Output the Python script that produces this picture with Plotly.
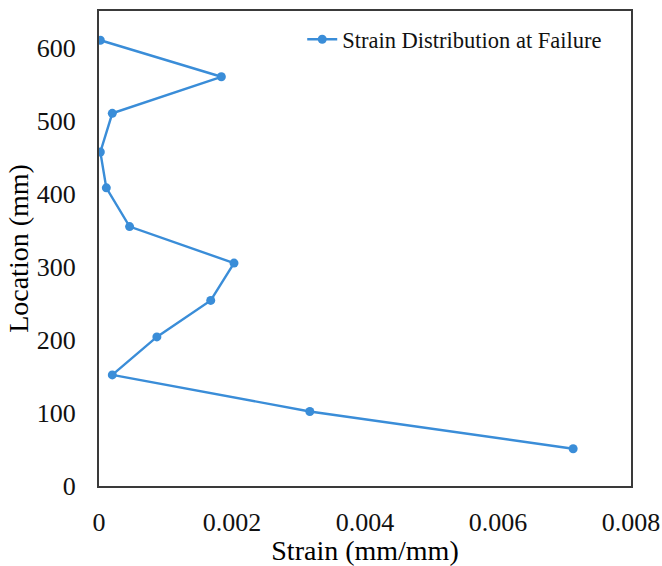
import plotly.graph_objects as go

strain = [0.00002, 0.00184, 0.00020, 0.00002, 0.00011, 0.00046, 0.00203, 0.00168, 0.00087, 0.00020, 0.00317, 0.00713]
location = [610, 560, 510, 457, 408, 355, 305, 254, 204, 152, 102, 51]
x_ticks = [0, 0.002, 0.004, 0.006, 0.008]
x_labels = ["0", "0.002", "0.004", "0.006", "0.008"]
y_ticks = [0, 100, 200, 300, 400, 500, 600]

color = "#3A8DD8"
font = "Liberation Serif, Times New Roman, serif"

fig = go.Figure()
fig.add_trace(go.Scatter(
    x=strain, y=location, mode="lines+markers",
    name="Strain Distribution at Failure",
    line=dict(color=color, width=2.4),
    marker=dict(color=color, size=9),
))

fig.update_layout(
    width=662, height=566,
    margin=dict(l=99, r=31, t=11, b=80),
    paper_bgcolor="white", plot_bgcolor="white",
    font=dict(family=font, color="black", size=26),
    showlegend=True,
    legend=dict(x=0.382, y=0.985, xanchor="left", yanchor="top",
                bgcolor="rgba(0,0,0,0)", font=dict(size=22.5, family=font, color="#111"),
                itemwidth=30),
)
fig.update_xaxes(
    range=[0, 0.008], tickvals=x_ticks, ticktext=x_labels, automargin=False,
    showline=True, linecolor="#3a3a3a", linewidth=2, mirror=True,
    showgrid=False, zeroline=False, ticks="outside", ticklen=12, tickcolor="rgba(0,0,0,0)",
    title=dict(text="Strain (mm/mm)", font=dict(size=28, family=font), standoff=5),
    tickfont=dict(size=26, color="#111"),
)
fig.update_yaxes(
    range=[0, 650], tickvals=y_ticks, automargin=False,
    showline=True, linecolor="#3a3a3a", linewidth=2, mirror=True,
    showgrid=False, zeroline=False, ticks="outside", ticklen=16, tickcolor="rgba(0,0,0,0)",
    title=dict(text="Location (mm)", font=dict(size=28, family=font), standoff=0),
    tickfont=dict(size=26, color="#111"),
)

fig.write_html("out.html")
